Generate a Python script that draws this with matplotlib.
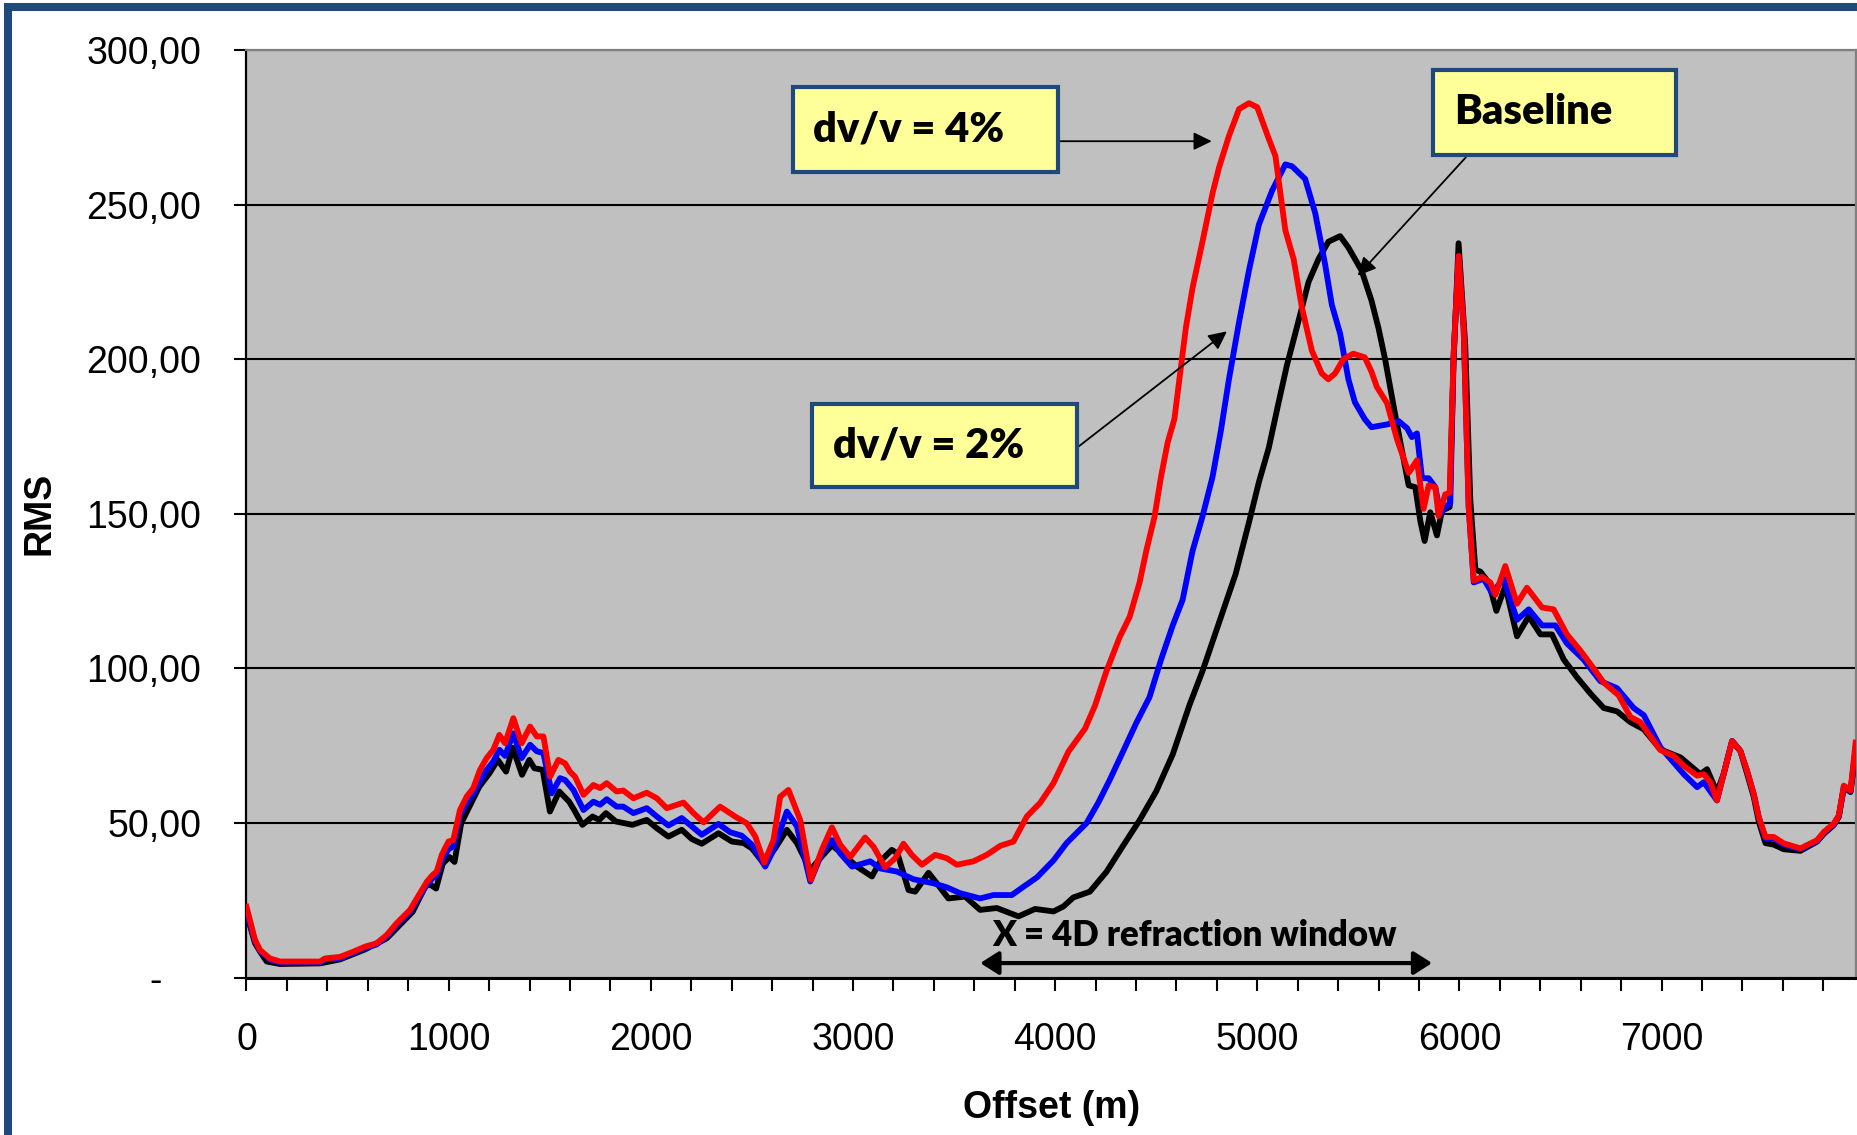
import matplotlib.pyplot as plt
from matplotlib.patches import Rectangle
from matplotlib.ticker import MultipleLocator

# RMS of the refracted arrival against offset, baseline and two velocity changes
offset_base = [0, 42, 67, 100, 166, 364, 463, 586, 694, 822, 888, 913, 938, 971, 1004, 1029,
               1062, 1103, 1152, 1202, 1243, 1284, 1317, 1363, 1399, 1424, 1465, 1501, 1547,
               1596, 1621, 1662, 1712, 1745, 1778, 1827, 1909, 1980, 2030, 2087, 2153, 2203,
               2252, 2335, 2401, 2459, 2500, 2558, 2615, 2673, 2723, 2789, 2846, 2896, 2954,
               3020, 3094, 3135, 3192, 3220, 3275, 3308, 3374, 3415, 3472, 3555, 3629, 3712,
               3819, 3901, 3992, 4041, 4090, 4172, 4254, 4336, 4418, 4500, 4582, 4664, 4729,
               4811, 4893, 4959, 5008, 5057, 5106, 5147, 5188, 5254, 5303, 5352, 5410, 5451,
               5516, 5565, 5600, 5633, 5675, 5708, 5749, 5782, 5807, 5828, 5856, 5889, 5914,
               5952, 5971, 5996, 6029, 6054, 6079, 6104, 6145, 6183, 6227, 6285, 6343, 6401,
               6458, 6516, 6582, 6648, 6714, 6780, 6846, 6912, 6994, 7094, 7143, 7192, 7225,
               7274, 7307, 7349, 7390, 7423, 7456, 7481, 7514, 7555, 7605, 7687, 7737, 7770,
               7803, 7852, 7877, 7902, 7935, 7960]
rms_base = [20.8, 11.1, 8.4, 5.2, 4.4, 4.6, 5.9, 9.1, 12.7, 21.3, 29.9, 29.9, 28.8, 36.9, 39.0,
            37.4, 49.9, 55.3, 61.8, 66.1, 70.4, 66.6, 74.3, 65.6, 70.4, 67.7, 67.2, 53.7, 60.2,
            56.9, 54.2, 49.4, 52.1, 51.0, 53.2, 50.5, 49.4, 51.0, 48.3, 45.6, 47.8, 44.8, 43.3,
            46.7, 44.0, 43.5, 41.8, 37.0, 41.8, 47.8, 43.5, 34.8, 39.2, 42.8, 39.7, 35.9, 32.7,
            37.6, 41.3, 40.2, 28.3, 27.8, 33.9, 30.5, 25.6, 26.2, 21.9, 22.5, 19.8, 22.2, 21.4,
            23.0, 25.9, 27.8, 34.2, 42.6, 50.9, 60.2, 72.2, 88.0, 99.1, 114.8, 130.5, 147.2,
            160.2, 171.3, 186.1, 198.1, 208.3, 225.0, 232.4, 238.0, 239.8, 236.1, 228.7, 219.0,
            210.0, 199.8, 184.7, 173.1, 159.2, 158.6, 147.6, 141.2, 150.5, 143.0, 151.0, 152.2,
            198.6, 237.5, 204.4, 154.5, 131.9, 131.3, 127.8, 118.6, 126.7, 110.4, 116.8, 111.0,
            111.0, 102.9, 97.1, 91.9, 87.2, 86.1, 82.6, 80.3, 73.8, 71.2, 68.5, 65.8, 67.4, 59.9,
            65.8, 76.5, 73.3, 66.0, 58.5, 50.5, 43.5, 43.0, 41.5, 41.0, 42.8, 44.0, 46.5, 49.3,
            52.0, 61.5, 60.0, 73.0]

offset_dv2 = [0, 42, 67, 116, 166, 364, 388, 463, 529, 586, 644, 694, 743, 809, 858, 892, 921,
              941, 966, 999, 1023, 1056, 1089, 1122, 1155, 1188, 1221, 1251, 1279, 1320, 1361,
              1403, 1436, 1469, 1510, 1551, 1576, 1617, 1667, 1716, 1749, 1782, 1831, 1864,
              1914, 1980, 2030, 2087, 2153, 2203, 2252, 2335, 2393, 2450, 2500, 2566, 2607,
              2673, 2723, 2789, 2846, 2896, 2937, 2995, 3086, 3135, 3217, 3300, 3398, 3464,
              3530, 3629, 3695, 3786, 3844, 3910, 3992, 4057, 4156, 4213, 4270, 4336, 4402,
              4467, 4524, 4582, 4631, 4680, 4729, 4779, 4820, 4860, 4910, 4959, 5008, 5074,
              5139, 5172, 5237, 5287, 5336, 5369, 5410, 5451, 5483, 5532, 5565, 5642, 5699,
              5741, 5765, 5790, 5815, 5848, 5881, 5906, 5930, 5955, 5971, 5996, 6021, 6046,
              6071, 6120, 6161, 6219, 6285, 6343, 6409, 6475, 6532, 6614, 6697, 6780, 6862,
              6912, 6994, 7110, 7176, 7209, 7274, 7307, 7349, 7390, 7423, 7456, 7481, 7514,
              7555, 7605, 7687, 7737, 7770, 7803, 7852, 7877, 7902, 7935, 7960]
rms_dv2 = [21.3, 11.8, 8.6, 5.8, 4.9, 4.9, 5.8, 6.3, 8.0, 9.6, 10.7, 13.3, 17.0, 21.3, 26.5,
           30.0, 32.2, 33.0, 38.0, 41.5, 42.4, 52.6, 56.5, 59.6, 63.5, 67.2, 69.9, 73.7, 71.7,
           79.0, 71.0, 75.3, 73.2, 72.6, 59.6, 64.5, 63.9, 60.7, 54.2, 56.9, 55.9, 57.7, 55.3,
           55.3, 53.2, 54.8, 52.1, 49.2, 51.6, 48.9, 46.2, 49.7, 47.0, 45.9, 43.0, 35.9, 41.3,
           53.7, 48.9, 31.1, 40.2, 44.5, 40.2, 35.9, 37.6, 35.3, 34.3, 31.8, 30.5, 29.2, 27.3,
           25.6, 26.7, 26.7, 29.4, 32.4, 37.9, 43.5, 50.0, 56.5, 63.9, 73.1, 82.4, 90.7, 102.8,
           113.9, 122.2, 138.0, 149.1, 162.0, 176.8, 193.5, 212.0, 228.7, 243.5, 254.6, 263.0,
           262.4, 258.3, 247.2, 230.6, 217.6, 208.3, 193.5, 186.1, 180.6, 178.0, 178.9, 180.0,
           177.7, 174.8, 176.0, 161.5, 161.5, 158.6, 149.9, 152.2, 153.4, 200.9, 233.0, 210.0,
           152.2, 127.8, 129.0, 124.4, 129.0, 115.7, 119.1, 113.9, 113.9, 108.1, 102.9, 95.9,
           93.6, 87.2, 84.9, 74.5, 65.8, 61.6, 63.2, 57.3, 65.8, 76.5, 73.3, 66.9, 59.4, 51.9,
           45.0, 45.0, 43.0, 41.5, 43.0, 44.2, 46.8, 49.5, 52.2, 61.8, 60.2, 74.0]

offset_dv4 = [0, 42, 67, 116, 166, 364, 388, 463, 529, 586, 644, 694, 743, 809, 858, 892, 921,
              941, 966, 999, 1023, 1056, 1089, 1122, 1155, 1188, 1221, 1251, 1279, 1320, 1361,
              1403, 1436, 1469, 1502, 1543, 1576, 1600, 1625, 1667, 1716, 1749, 1782, 1831,
              1864, 1914, 1980, 2030, 2079, 2162, 2211, 2261, 2343, 2417, 2475, 2517, 2561,
              2607, 2640, 2681, 2739, 2792, 2846, 2896, 2937, 2987, 3060, 3102, 3159, 3209,
              3250, 3291, 3341, 3407, 3464, 3514, 3596, 3662, 3728, 3794, 3860, 3926, 3992,
              4066, 4148, 4197, 4254, 4320, 4369, 4418, 4451, 4492, 4524, 4557, 4590, 4615,
              4647, 4680, 4729, 4779, 4811, 4860, 4910, 4959, 5000, 5057, 5090, 5139, 5180,
              5221, 5270, 5319, 5352, 5385, 5426, 5475, 5532, 5565, 5592, 5642, 5691, 5749,
              5790, 5823, 5848, 5881, 5897, 5930, 5952, 5971, 5996, 6021, 6046, 6071, 6112,
              6153, 6178, 6227, 6285, 6334, 6409, 6466, 6532, 6598, 6664, 6714, 6788, 6846,
              6895, 6994, 7060, 7110, 7176, 7209, 7242, 7274, 7307, 7349, 7390, 7423, 7456,
              7481, 7514, 7555, 7605, 7687, 7737, 7770, 7803, 7852, 7877, 7902, 7935, 7960]
rms_dv4 = [22.9, 12.2, 8.9, 6.2, 5.2, 5.2, 6.2, 6.7, 8.4, 10.0, 11.1, 13.8, 17.6, 21.9, 27.3,
           31.0, 33.2, 34.3, 39.7, 44.0, 44.5, 54.2, 58.5, 61.3, 67.2, 71.0, 73.7, 78.5, 75.8,
           83.9, 75.8, 81.2, 78.0, 78.0, 65.0, 70.4, 69.3, 66.6, 65.0, 59.1, 62.3, 61.3, 62.9,
           60.2, 60.5, 58.0, 59.8, 58.0, 54.8, 56.6, 53.2, 50.2, 55.3, 52.1, 49.9, 45.6, 37.2,
           44.5, 58.5, 60.7, 51.0, 31.6, 41.3, 48.6, 43.0, 39.0, 45.3, 42.3, 35.7, 38.6, 43.3,
           39.7, 36.5, 39.7, 38.6, 36.5, 37.6, 39.7, 42.6, 44.0, 52.1, 56.5, 62.9, 73.1, 80.5,
           87.9, 99.1, 110.2, 116.7, 127.8, 138.0, 149.1, 162.0, 173.1, 180.6, 193.5, 210.2,
           223.1, 238.0, 253.7, 262.0, 272.2, 280.9, 282.8, 281.5, 271.3, 265.7, 241.7, 232.4,
           216.7, 202.8, 195.4, 193.5, 195.4, 200.0, 201.8, 200.6, 196.0, 191.0, 185.8, 174.2,
           163.2, 167.3, 151.6, 159.2, 158.6, 149.3, 156.3, 156.8, 200.9, 233.4, 210.2, 152.2,
           128.4, 129.6, 127.8, 123.8, 133.1, 120.9, 126.1, 119.7, 119.1, 111.0, 105.8, 100.0,
           95.4, 91.3, 84.3, 82.6, 73.6, 71.7, 68.5, 65.3, 65.8, 63.2, 57.3, 65.8, 76.5, 73.3,
           66.9, 59.4, 51.9, 45.5, 45.5, 43.4, 41.8, 43.4, 44.5, 47.1, 49.8, 52.5, 62.1, 60.5,
           76.0]

x_ticks = [0, 1000, 2000, 3000, 4000, 5000, 6000, 7000]
y_ticks = [0, 50, 100, 150, 200, 250, 300]
y_labels = ['-   \u2009' if v == 0 else f'{v:.2f}'.replace('.', ',') for v in y_ticks]

W, H = 1858, 1135
sans = ['Liberation Sans', 'DejaVu Sans']
callout = ['Lato', 'DejaVu Sans']

fig = plt.figure(figsize=(W / 100, H / 100), dpi=100)
fig.patch.set_facecolor('white')
ax = fig.add_axes([246.5 / W, (H - 977.6) / H, (1856 - 246.5) / W, (977.6 - 50) / H])
ax.set_facecolor('#C0C0C0')

ax.plot(offset_base, rms_base, color='black', lw=4.2, solid_joinstyle='round', zorder=3)
ax.plot(offset_dv2, rms_dv2, color='#0000FF', lw=4.2, solid_joinstyle='round', zorder=3)
ax.plot(offset_dv4, rms_dv4, color='#FF0000', lw=4.2, solid_joinstyle='round', zorder=3)

ax.set_xlim(0, 7962)
ax.set_ylim(0, 300)
ax.set_yticks(y_ticks, labels=y_labels, fontsize=27, family=sans)
ax.set_xticks(x_ticks, labels=[str(t) for t in x_ticks], fontsize=27, family=sans)
ax.xaxis.set_minor_locator(MultipleLocator(200))
ax.tick_params(axis='y', length=8.5, width=1.5, pad=24)
ax.tick_params(axis='x', which='both', length=9, width=1.5, pad=23)

ax.set_axisbelow(True)
ax.grid(axis='y', color='black', lw=1.5)
ax.spines['left'].set_linewidth(1.6)
ax.spines['bottom'].set_linewidth(2.2)
for side in ('top', 'right'):
    ax.spines[side].set_color('#808080')
    ax.spines[side].set_linewidth(1.6)

ax.set_xlabel('Offset (m)', fontsize=27, fontweight='bold', family=sans)
ax.xaxis.set_label_coords(0.5, -0.121)
ax.set_ylabel('RMS', fontsize=27, fontweight='bold', family=sans)
ax.yaxis.set_label_coords(-0.1175, 0.5)

# callout boxes
box_style = dict(facecolor='#FFFF99', edgecolor='#1F497D', lw=3, zorder=6)
text_style = dict(fontsize=30, fontweight='heavy', family=callout, ha='left', va='center', zorder=7)
ax.add_patch(Rectangle((2704, 260.4), 1311, 27.5, **box_style))
ax.text(2803, 274.2, 'dv/v = 4%', **text_style)
ax.add_patch(Rectangle((2797, 158.8), 1312, 26.8, **box_style))
ax.text(2902, 172.2, 'dv/v = 2%', **text_style)
ax.add_patch(Rectangle((5870, 266.0), 1202, 27.5, **box_style))
ax.text(5974, 280.0, 'Baseline', **text_style)

pointer = dict(arrowstyle='-|>,head_length=0.55,head_width=0.27', color='black', lw=1.3,
               mutation_scale=20, shrinkA=0, shrinkB=0)
ax.annotate('', xy=(4775, 270.5), xytext=(4015, 270.5), arrowprops=pointer, zorder=5)
ax.annotate('', xy=(4850, 209.0), xytext=(4109, 171.4), arrowprops=pointer, zorder=5)
ax.annotate('', xy=(5497, 227.0), xytext=(6032, 265.3), arrowprops=pointer, zorder=5)

# refraction window span
ax.annotate('', xy=(3630, 4.7), xytext=(5865, 4.7), zorder=5,
            arrowprops=dict(arrowstyle='<|-|>,head_length=0.55,head_width=0.35', color='black',
                            lw=3, mutation_scale=20, shrinkA=0, shrinkB=0))
ax.text(4691, 13.5, 'X = 4D refraction window', fontsize=25, fontweight='heavy', family=callout,
        ha='center', va='center', zorder=5)

# slide frame
fig.add_artist(Rectangle((8 / W, -0.05), 1.2, 1.05 - 7 / H, transform=fig.transFigure,
                         fill=False, edgecolor='#1F497D', lw=5.8, clip_on=False))

fig.savefig('out.png', dpi=100)
